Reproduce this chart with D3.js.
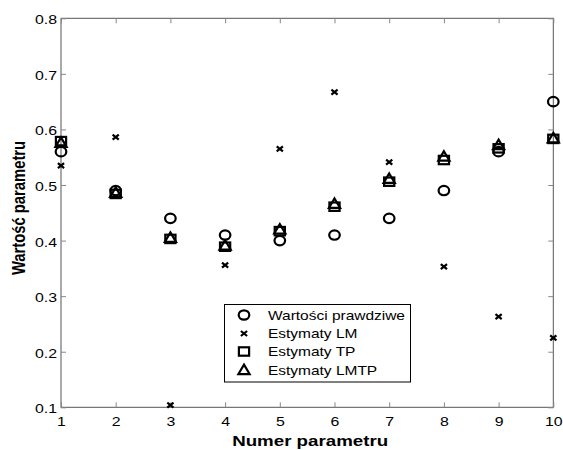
<!DOCTYPE html>
<html><head><meta charset="utf-8">
<script src="https://cdn.jsdelivr.net/npm/d3@7"></script>
<style>body{margin:0;background:#fff}svg{display:block}</style>
</head><body>
<svg id="c" width="563" height="450"></svg>
<script>
const params = [1,2,3,4,5,6,7,8,9,10];
const trueVals = [0.56,0.49,0.44,0.41,0.40,0.41,0.44,0.49,0.56,0.65];
const lmVals   = [0.535,0.586,0.104,0.356,0.565,0.667,0.541,0.353,0.263,0.225];
const tpVals   = [0.579,0.484,0.403,0.389,0.417,0.461,0.506,0.545,0.566,0.583];
const lmtpVals = [0.576,0.486,0.405,0.391,0.420,0.466,0.511,0.551,0.572,0.584];
const xTicks = [1,2,3,4,5,6,7,8,9,10];
const yTicks = [0.1,0.2,0.3,0.4,0.5,0.6,0.7,0.8];
const legendLabels = ["Wartości prawdziwe","Estymaty LM","Estymaty TP","Estymaty LMTP"];

const svg = d3.select("#c");
const L=61, R=553.3, T=18.3, B=407.3;
const x = d3.scaleLinear().domain([1,10]).range([L,R]);
const y = d3.scaleLinear().domain([0.1,0.8]).range([B,T]);
const font = "Liberation Sans, Arial, sans-serif";
const axisCol = "#555";
const SX = 1.22; // horizontal stretch of the original figure

function stretch(sel, f){
  sel.each(function(){
    const w = this.getComputedTextLength();
    d3.select(this).attr("textLength", w*f).attr("lengthAdjust","spacingAndGlyphs");
  });
}

// box
svg.append("rect").attr("x",L).attr("y",T).attr("width",R-L).attr("height",B-T)
  .attr("fill","none").attr("stroke",axisCol).attr("stroke-width",1);

// axes via d3
const gx = svg.append("g").attr("transform",`translate(0,${B})`)
  .call(d3.axisBottom(x).tickValues(xTicks).tickSize(-5).tickPadding(9).tickFormat(d3.format("d")));
const gxt = svg.append("g").attr("transform",`translate(0,${T})`)
  .call(d3.axisTop(x).tickValues(xTicks).tickSize(-5).tickFormat(""));
const gy = svg.append("g").attr("transform",`translate(${L},0)`)
  .call(d3.axisLeft(y).tickValues(yTicks).tickSize(-5).tickPadding(4).tickFormat(d3.format(".1f")));
const gyr = svg.append("g").attr("transform",`translate(${R},0)`)
  .call(d3.axisRight(y).tickValues(yTicks).tickSize(-5).tickFormat(""));
[gx,gxt,gy,gyr].forEach(g=>{
  g.select(".domain").remove();
  g.selectAll(".tick line").attr("stroke","#888");
  g.selectAll("text").attr("font-family",font).attr("font-size",13).attr("fill","#000");
});
gy.selectAll("text").attr("dy","0.42em");
gx.selectAll("text").attr("dy","0.75em");
stretch(gx.selectAll("text"), SX);
stretch(gy.selectAll("text"), SX);

// axis titles
svg.append("text").attr("x",(L+R)/2 + 3).attr("y",446).attr("text-anchor","middle")
  .attr("font-family",font).attr("font-weight","bold").attr("font-size",15.5)
  .attr("textLength",156).attr("lengthAdjust","spacingAndGlyphs").text("Numer parametru");
svg.append("text").attr("transform",`translate(25,${208}) rotate(-90) scale(1,1.18)`).attr("text-anchor","middle")
  .attr("font-family",font).attr("font-weight","bold").attr("font-size",14.8).text("Wartość parametru");

// marker generators
function circle(g,cx,cy){g.append("ellipse").attr("cx",cx).attr("cy",cy).attr("rx",5.3).attr("ry",4.7).attr("fill","none").attr("stroke","#000").attr("stroke-width",2.2);}
function cross(g,cx,cy){const sx=3.1, sy=2.5;g.append("path").attr("d",`M${cx-sx},${cy-sy}L${cx+sx},${cy+sy}M${cx-sx},${cy+sy}L${cx+sx},${cy-sy}`).attr("stroke","#000").attr("stroke-width",2.2).attr("fill","none");}
function square(g,cx,cy){const sx=5.1, sy=4.2;g.append("rect").attr("x",cx-sx).attr("y",cy-sy).attr("width",2*sx).attr("height",2*sy).attr("fill","none").attr("stroke","#000").attr("stroke-width",2.2);}
function tri(g,cx,cy){const sx=5.6, sy=5.4;g.append("path").attr("d",`M${cx},${cy-sy}L${cx+sx},${cy+sy*0.75}L${cx-sx},${cy+sy*0.75}Z`).attr("fill","none").attr("stroke","#000").attr("stroke-width",2.2).attr("stroke-linejoin","miter");}

const series = [[trueVals,circle],[lmVals,cross],[tpVals,square],[lmtpVals,tri]];
const pg = svg.append("g");
series.forEach(([vals,fn])=>{
  params.forEach((p,i)=>fn(pg,x(p),y(vals[i])));
});

// legend
const lg = svg.append("g");
lg.append("rect").attr("x",224.5).attr("y",304.5).attr("width",186).attr("height",77.5)
  .attr("fill","#fff").attr("stroke","#000").attr("stroke-width",1);
const rowsY=[315,333.5,351.5,370];
const fns=[circle,cross,square,tri];
legendLabels.forEach((t,i)=>{
  fns[i](lg,244,rowsY[i]);
  const tx = lg.append("text").attr("x",268).attr("y",rowsY[i]+4.6).attr("font-family",font).attr("font-size",13).text(t);
  stretch(tx, 1.19);
});
</script>
</body></html>
